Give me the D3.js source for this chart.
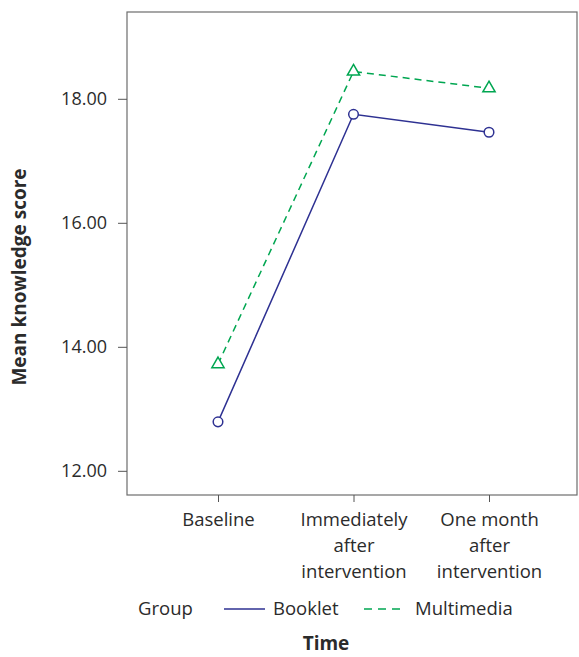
<!DOCTYPE html>
<html>
<head>
<meta charset="utf-8">
<script src="https://cdn.jsdelivr.net/npm/d3@7"></script>
<style>
  body { margin: 0; background: #fff; }
  text { font-family: "Open Sans", "Noto Sans", sans-serif; fill: #2b2b2b; }
</style>
</head>
<body>
<svg id="chart" width="579" height="657"></svg>
<script>
// chart data
var timePoints = ["Baseline", "Immediately after intervention", "One month after intervention"];
var timeLabels = [["Baseline"], ["Immediately", "after", "intervention"], ["One month", "after", "intervention"]];
var bookletScores = [12.79, 17.75, 17.46];
var multimediaScores = [13.72, 18.44, 18.17];
var yTicks = [12, 14, 16, 18];
var groupNames = ["Booklet", "Multimedia"];

var svg = d3.select("#chart");

var margin = {top: 12, right: 2, bottom: 162, left: 127};
var width = 579 - margin.left - margin.right;
var height = 657 - margin.top - margin.bottom;

var x = d3.scalePoint()
  .domain(timePoints)
  .range([91, 362]);

var y = d3.scaleLinear()
  .domain([11.61, 19.4])
  .range([height, 0]);

var g = svg.append("g")
  .attr("transform", "translate(" + margin.left + "," + margin.top + ")");

// frame
g.append("rect")
  .attr("x", 0).attr("y", 0)
  .attr("width", width).attr("height", height)
  .attr("fill", "none")
  .attr("stroke", "#6d6d6d")
  .attr("stroke-width", 1.2);

// y axis
var yAxis = g.append("g")
  .call(d3.axisLeft(y).tickValues(yTicks).tickFormat(d3.format(".2f")).tickSize(9).tickPadding(11));
yAxis.select(".domain").remove();
yAxis.selectAll("line").attr("stroke", "#555");
yAxis.selectAll("text").style("font-size", "18px").attr("fill", "#2b2b2b");

// x axis
var xAxis = g.append("g")
  .attr("transform", "translate(0," + height + ")")
  .call(d3.axisBottom(x).tickSize(7).tickFormat(""));
xAxis.select(".domain").remove();
xAxis.selectAll("line").attr("stroke", "#555");

xAxis.selectAll(".tick").each(function(d, i) {
  var t = d3.select(this).append("text")
    .attr("y", 31)
    .attr("text-anchor", "middle")
    .style("font-size", "18.5px")
    .attr("fill", "#2b2b2b");
  timeLabels[i].forEach(function(line, j) {
    t.append("tspan").attr("x", 0).attr("dy", j === 0 ? 0 : 26).text(line);
  });
});

// lines
var line = d3.line()
  .x(function(d, i) { return x(timePoints[i]); })
  .y(function(d) { return y(d); });

g.append("path")
  .datum(bookletScores)
  .attr("d", line)
  .attr("fill", "none")
  .attr("stroke", "#2e3192")
  .attr("stroke-width", 1.5);

g.append("path")
  .datum(multimediaScores)
  .attr("d", line)
  .attr("fill", "none")
  .attr("stroke", "#00a651")
  .attr("stroke-width", 1.5)
  .attr("stroke-dasharray", "7,5");

// markers
g.selectAll(".booklet-pt")
  .data(bookletScores)
  .enter().append("circle")
  .attr("cx", function(d, i) { return x(timePoints[i]); })
  .attr("cy", function(d) { return y(d); })
  .attr("r", 4.8)
  .attr("fill", "#fff")
  .attr("stroke", "#2e3192")
  .attr("stroke-width", 1.5);

var tri = d3.symbol().type(d3.symbolTriangle).size(65);
g.selectAll(".mm-pt")
  .data(multimediaScores)
  .enter().append("path")
  .attr("d", tri)
  .attr("transform", function(d, i) { return "translate(" + x(timePoints[i]) + "," + y(d) + ")"; })
  .attr("fill", "#fff")
  .attr("stroke", "#00a651")
  .attr("stroke-width", 1.5);

// axis titles
svg.append("text")
  .attr("transform", "translate(26,277) rotate(-90)")
  .attr("text-anchor", "middle")
  .style("font-size", "19px")
  .style("font-weight", "bold")
  .text("Mean knowledge score");

svg.append("text")
  .attr("x", 326)
  .attr("y", 650)
  .attr("text-anchor", "middle")
  .style("font-size", "19px")
  .style("font-weight", "bold")
  .text("Time");

// legend
var legend = svg.append("g").attr("transform", "translate(0,609)");
legend.append("text").attr("x", 138).attr("y", 6).style("font-size", "18.5px").text("Group");

legend.append("line").attr("x1", 224).attr("x2", 265).attr("y1", 0).attr("y2", 0)
  .attr("stroke", "#2e3192").attr("stroke-width", 1.5);
legend.append("text").attr("x", 273).attr("y", 6).style("font-size", "18.5px").text(groupNames[0]);

legend.append("line").attr("x1", 364).attr("x2", 406).attr("y1", 0).attr("y2", 0)
  .attr("stroke", "#00a651").attr("stroke-width", 1.5).attr("stroke-dasharray", "8,6");
legend.append("text").attr("x", 415).attr("y", 6).style("font-size", "18.5px").text(groupNames[1]);
</script>
</body>
</html>
